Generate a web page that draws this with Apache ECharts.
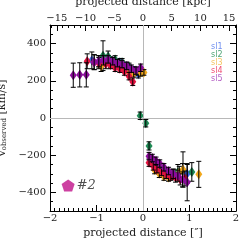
<!DOCTYPE html>
<html><head><meta charset="utf-8">
<script src="https://cdn.jsdelivr.net/npm/echarts@6/dist/echarts.min.js"></script>
<style>html,body{margin:0;padding:0;background:#fff}#c{width:249px;height:249px}</style>
</head><body><div id="c"></div>
<script>
// data: [projected distance (arcsec), observed velocity (km/s), error (km/s)]
const seriesNames = ['sl1', 'sl2', 'sl3', 'sl4', 'sl5'];
const sl1 = [[-1.1,310,45],[-0.95,305,30],[-0.7,310,20],[-0.5,300,20],[-0.35,280,20],[-0.2,255,20],[-0.1,235,20],
             [0.25,-250,20],[0.45,-290,20],[0.65,-300,25],[0.85,-285,40],[0.95,-300,50]];
const sl2 = [[-0.86,335,80],[-0.75,330,30],[-0.6,315,20],[-0.45,300,20],[-0.3,275,20],[-0.15,250,20],
             [-0.06,12,20],[0.06,-28,20],[0.13,-150,22],[0.3,-260,20],[0.5,-295,25],[0.75,-290,40],[1.05,-290,50]];
const sl3 = [[-0.9,280,30],[-0.7,290,20],[-0.5,280,20],[-0.4,265,20],[-0.3,245,20],[-0.2,240,20],[-0.05,245,20],[0.02,245,15],
             [0.25,-280,20],[0.35,-300,20],[0.45,-315,20],[0.55,-320,20],[0.65,-305,25],[0.78,-295,35],[0.86,-277,95],[1.2,-303,70]];
const sl4 = [[-1.2,305,40],[-1.05,300,40],[-0.95,295,30],[-0.8,290,25],[-0.7,285,20],[-0.6,270,20],[-0.5,265,20],[-0.4,250,20],[-0.3,225,20],[-0.22,195,20],
             [0.13,-240,20],[0.22,-260,20],[0.3,-275,20],[0.4,-290,20],[0.5,-305,20],[0.6,-315,20],[0.7,-320,25],[0.8,-330,30],[0.9,-325,40]];
const sl5 = [[-1.5,230,65],[-1.36,232,65],[-1.22,232,65],[-1.05,300,40],[-0.95,305,30],[-0.85,310,25],[-0.75,315,20],[-0.65,305,20],[-0.55,295,20],[-0.45,290,20],[-0.35,280,20],[-0.25,265,20],[-0.15,255,20],[-0.05,270,20],
             [0.13,-205,20],[0.2,-215,20],[0.28,-230,20],[0.36,-245,20],[0.45,-265,20],[0.55,-285,20],[0.65,-300,25],[0.75,-310,30],[0.85,-330,40],[0.95,-345,100]];
const allSeries = [sl1, sl2, sl3, sl4, sl5];
const pointColors = ['#3d62e6', '#1f8a55', '#f2a81c', '#e3123f', '#8c0c9c'];
const legendColors = ['#7090f0', '#4da575', '#f5c460', '#ef4d72', '#b460c4'];
const xTicks = [-2, -1, 0, 1, 2];
const yTicks = [-400, -200, 0, 200, 400];
const yMinorTicks = [-450,-350,-300,-250,-150,-100,-50,50,100,150,250,300,350,450];
const kpcTicks = [-15, -10, -5, 0, 5, 10, 15];
const kpcMinorTicks = [-16,-14,-13,-12,-11,-9,-8,-7,-6,-4,-3,-2,-1,1,2,3,4,6,7,8,9,11,12,13,14,16];
const kpcPerArcsec = 8.1;
const objectLabel = '#2';
const objectPos = [-1.61, -363];

const FONT = 'DejaVu Serif';
const fmtMinus = v => String(v).replace('-', '\u2212');

function errRender(params, api) {
  const x = api.value(0), v = api.value(1), e = api.value(2);
  const lo = api.coord([x, v - e]), hi = api.coord([x, v + e]);
  const w = 2.5, st = {stroke: '#000', lineWidth: 1};
  return {type: 'group', children: [
    {type: 'line', shape: {x1: lo[0], y1: lo[1], x2: hi[0], y2: hi[1]}, style: st},
    {type: 'line', shape: {x1: lo[0]-w, y1: lo[1], x2: lo[0]+w, y2: lo[1]}, style: st},
    {type: 'line', shape: {x1: hi[0]-w, y1: hi[1], x2: hi[0]+w, y2: hi[1]}, style: st}
  ]};
}

const series = [];
allSeries.forEach((d, i) => {
  series.push({type: 'scatter', name: seriesNames[i], data: d.map(p => [p[0], p[1]]),
    symbol: 'diamond', symbolSize: [7, 10], itemStyle: {color: pointColors[i], opacity: 1}, z: 2 + i * 2});
  series.push({type: 'custom', name: seriesNames[i] + '_err', data: d, renderItem: errRender,
    encode: {x: 0, y: 1}, z: 3 + i * 2, silent: true});
});
series.push({type: 'scatter', name: 'zero', data: [], markLine: {silent: true, symbol: 'none',
  lineStyle: {color: '#b8b8b8', width: 1, type: 'solid'}, label: {show: false},
  data: [{xAxis: 0}, {yAxis: 0}]}, z: 1});
series.push({type: 'scatter', name: 'obj', data: [objectPos],
  symbol: 'path://M50,0 L97.6,34.5 L79.4,90.5 L20.6,90.5 L2.4,34.5 Z', symbolSize: [13, 12],
  itemStyle: {color: '#c0128a'}, z: 20,
  label: {show: true, position: 'right', distance: 2, formatter: objectLabel,
    fontFamily: FONT, fontStyle: 'italic', fontSize: 13, color: '#222'}});

const grid = {left: 50, right: 13, top: 25, bottom: 38, containLabel: false, outerBoundsMode: 'none'};
const axisLine = {show: true, onZero: false, lineStyle: {color: '#000', width: 1}};
const noLine = {show: false, onZero: false};
const labelStyle = {fontFamily: FONT, fontSize: 10, color: '#222'};

const option = {
  animation: false,
  grid,
  legend: {orient: 'vertical', left: 206, top: 43, itemWidth: 0, itemHeight: 0, itemGap: 0,
    padding: 0, selectedMode: false, icon: 'rect',
    data: seriesNames.map((n, i) => ({name: n, textStyle: {color: legendColors[i], fontSize: 8, fontFamily: 'DejaVu Sans'}}))},
  xAxis: [
    {type: 'value', position: 'bottom', min: -2, max: 2, interval: 1, axisLine,
     axisTick: {inside: true, length: 6, lineStyle: {color: '#000'}},
     minorTick: {show: true, splitNumber: 10, length: 3, lineStyle: {color: '#000'}},
     splitLine: {show: false},
     axisLabel: {...labelStyle, margin: 2, formatter: fmtMinus, customValues: xTicks},
     name: 'projected distance [\u2033]', nameLocation: 'middle', nameGap: 17,
     nameTextStyle: {fontFamily: FONT, fontSize: 11, color: '#222'}},
    {type: 'value', position: 'top', min: -2 * kpcPerArcsec, max: 2 * kpcPerArcsec, axisLine,
     axisTick: {inside: true, length: 6, customValues: kpcTicks, lineStyle: {color: '#000'}},
     splitLine: {show: false},
     axisLabel: {...labelStyle, margin: 2, formatter: fmtMinus, customValues: kpcTicks},
     name: 'projected distance [kpc]', nameLocation: 'middle', nameGap: 14,
     nameTextStyle: {fontFamily: FONT, fontSize: 11, color: '#222'}},
    {type: 'value', position: 'top', min: -2 * kpcPerArcsec, max: 2 * kpcPerArcsec, axisLine: noLine,
     axisTick: {inside: true, length: 3, customValues: kpcMinorTicks, lineStyle: {color: '#000'}},
     splitLine: {show: false}, axisLabel: {show: false}}
  ],
  yAxis: [
    {type: 'value', position: 'left', min: -500, max: 500, axisLine,
     axisTick: {inside: true, length: 6, customValues: yTicks, lineStyle: {color: '#000'}},
     splitLine: {show: false},
     axisLabel: {...labelStyle, margin: 4, formatter: fmtMinus, customValues: yTicks},
     name: '{v|v}{s|observed}{v| [km/s]}', nameLocation: 'middle', nameGap: 36, nameRotate: 90,
     nameTextStyle: {fontFamily: FONT, fontSize: 11, color: '#222',
       rich: {v: {fontFamily: FONT, fontSize: 11, color: '#222', lineHeight: 14, verticalAlign: 'bottom'},
              s: {fontFamily: FONT, fontSize: 7, color: '#222', lineHeight: 10, verticalAlign: 'bottom'}}}},
    {type: 'value', position: 'left', min: -500, max: 500, axisLine: noLine,
     axisTick: {inside: true, length: 3, customValues: yMinorTicks, lineStyle: {color: '#000'}},
     splitLine: {show: false}, axisLabel: {show: false}},
    {type: 'value', position: 'right', min: -500, max: 500, axisLine,
     axisTick: {inside: true, length: 6, customValues: yTicks, lineStyle: {color: '#000'}},
     splitLine: {show: false}, axisLabel: {show: false}},
    {type: 'value', position: 'right', min: -500, max: 500, axisLine: noLine,
     axisTick: {inside: true, length: 3, customValues: yMinorTicks, lineStyle: {color: '#000'}},
     splitLine: {show: false}, axisLabel: {show: false}}
  ],
  series
};
const chart = echarts.init(document.getElementById('c'), null, {renderer: 'canvas'});
chart.setOption(option);
</script></body></html>
